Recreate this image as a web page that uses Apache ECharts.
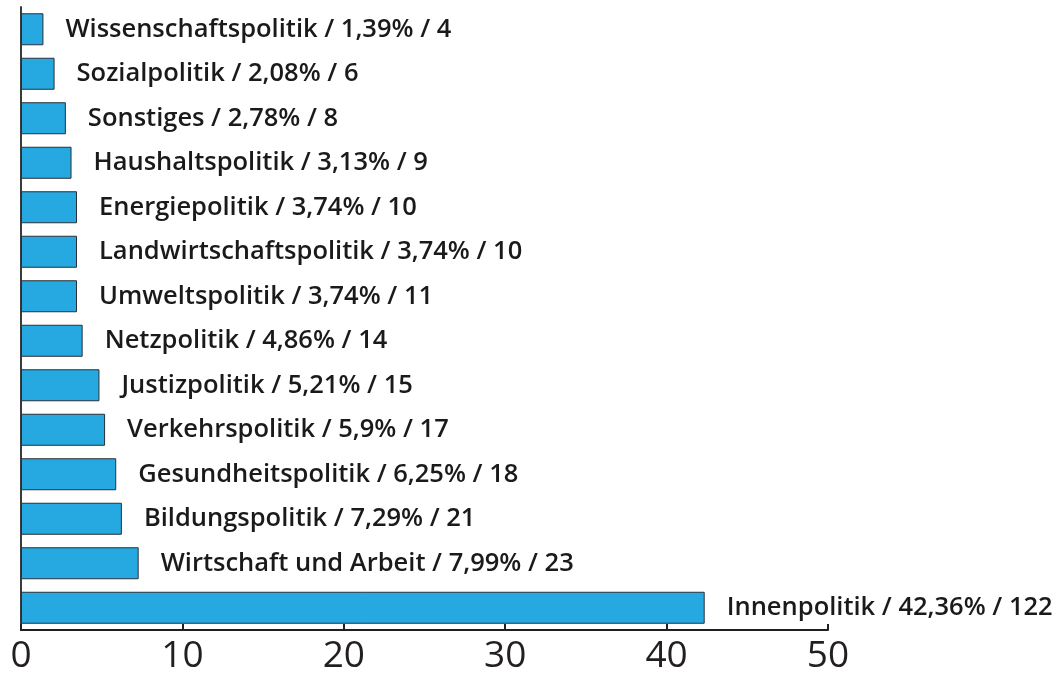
<!DOCTYPE html>
<html><head><meta charset="utf-8">
<script src="https://cdn.jsdelivr.net/npm/echarts@6/dist/echarts.min.js"></script>
<style>html,body{margin:0;padding:0;background:#fff}#c{width:1059px;height:675px}</style>
</head><body><div id="c"></div>
<script>
const categories = ["Wissenschaftspolitik","Sozialpolitik","Sonstiges","Haushaltspolitik","Energiepolitik","Landwirtschaftspolitik","Umweltspolitik","Netzpolitik","Justizpolitik","Verkehrspolitik","Gesundheitspolitik","Bildungspolitik","Wirtschaft und Arbeit","Innenpolitik"];
// bar lengths as drawn in the picture
const barValues = [1.39,2.08,2.78,3.13,3.47,3.47,3.47,3.82,4.86,5.21,5.9,6.25,7.29,42.36];
// percent text as printed in the labels
const percentLabels = ["1,39","2,08","2,78","3,13","3,74","3,74","3,74","4,86","5,21","5,9","6,25","7,29","7,99","42,36"];
const counts = [4,6,8,9,10,10,11,14,15,17,18,21,23,122];
const xTicks = {min:0, max:50, interval:10};

const chart = echarts.init(document.getElementById('c'));
chart.setOption({
  animation:false,
  grid:{left:21, right:231, top:7, bottom:43},
  xAxis:{type:'value', min:xTicks.min, max:xTicks.max, interval:xTicks.interval,
    axisLine:{show:true, lineStyle:{color:'#231f20', width:2}},
    axisTick:{show:true, inside:true, length:6, lineStyle:{color:'#231f20', width:2}},
    splitLine:{show:false},
    axisLabel:{color:'#231f20', fontSize:37, fontFamily:'Open Sans', margin:8}},
  yAxis:{type:'category', data:categories, inverse:true,
    axisLine:{show:true, lineStyle:{color:'#3a3a3a', width:2}},
    axisTick:{show:false}, axisLabel:{show:false}},
  series:[{type:'bar', data:barValues, barWidth:32,
    itemStyle:{color:'#25a9e0', borderColor:'#2a3038', borderWidth:1},
    label:{show:true, position:'right', distance:22, color:'#1a1a1a', fontSize:25.5, fontWeight:600,
      fontFamily:'Open Sans',
      formatter:p=>`${categories[p.dataIndex]} / ${percentLabels[p.dataIndex]}% / ${counts[p.dataIndex]}`}}]
});
</script></body></html>
